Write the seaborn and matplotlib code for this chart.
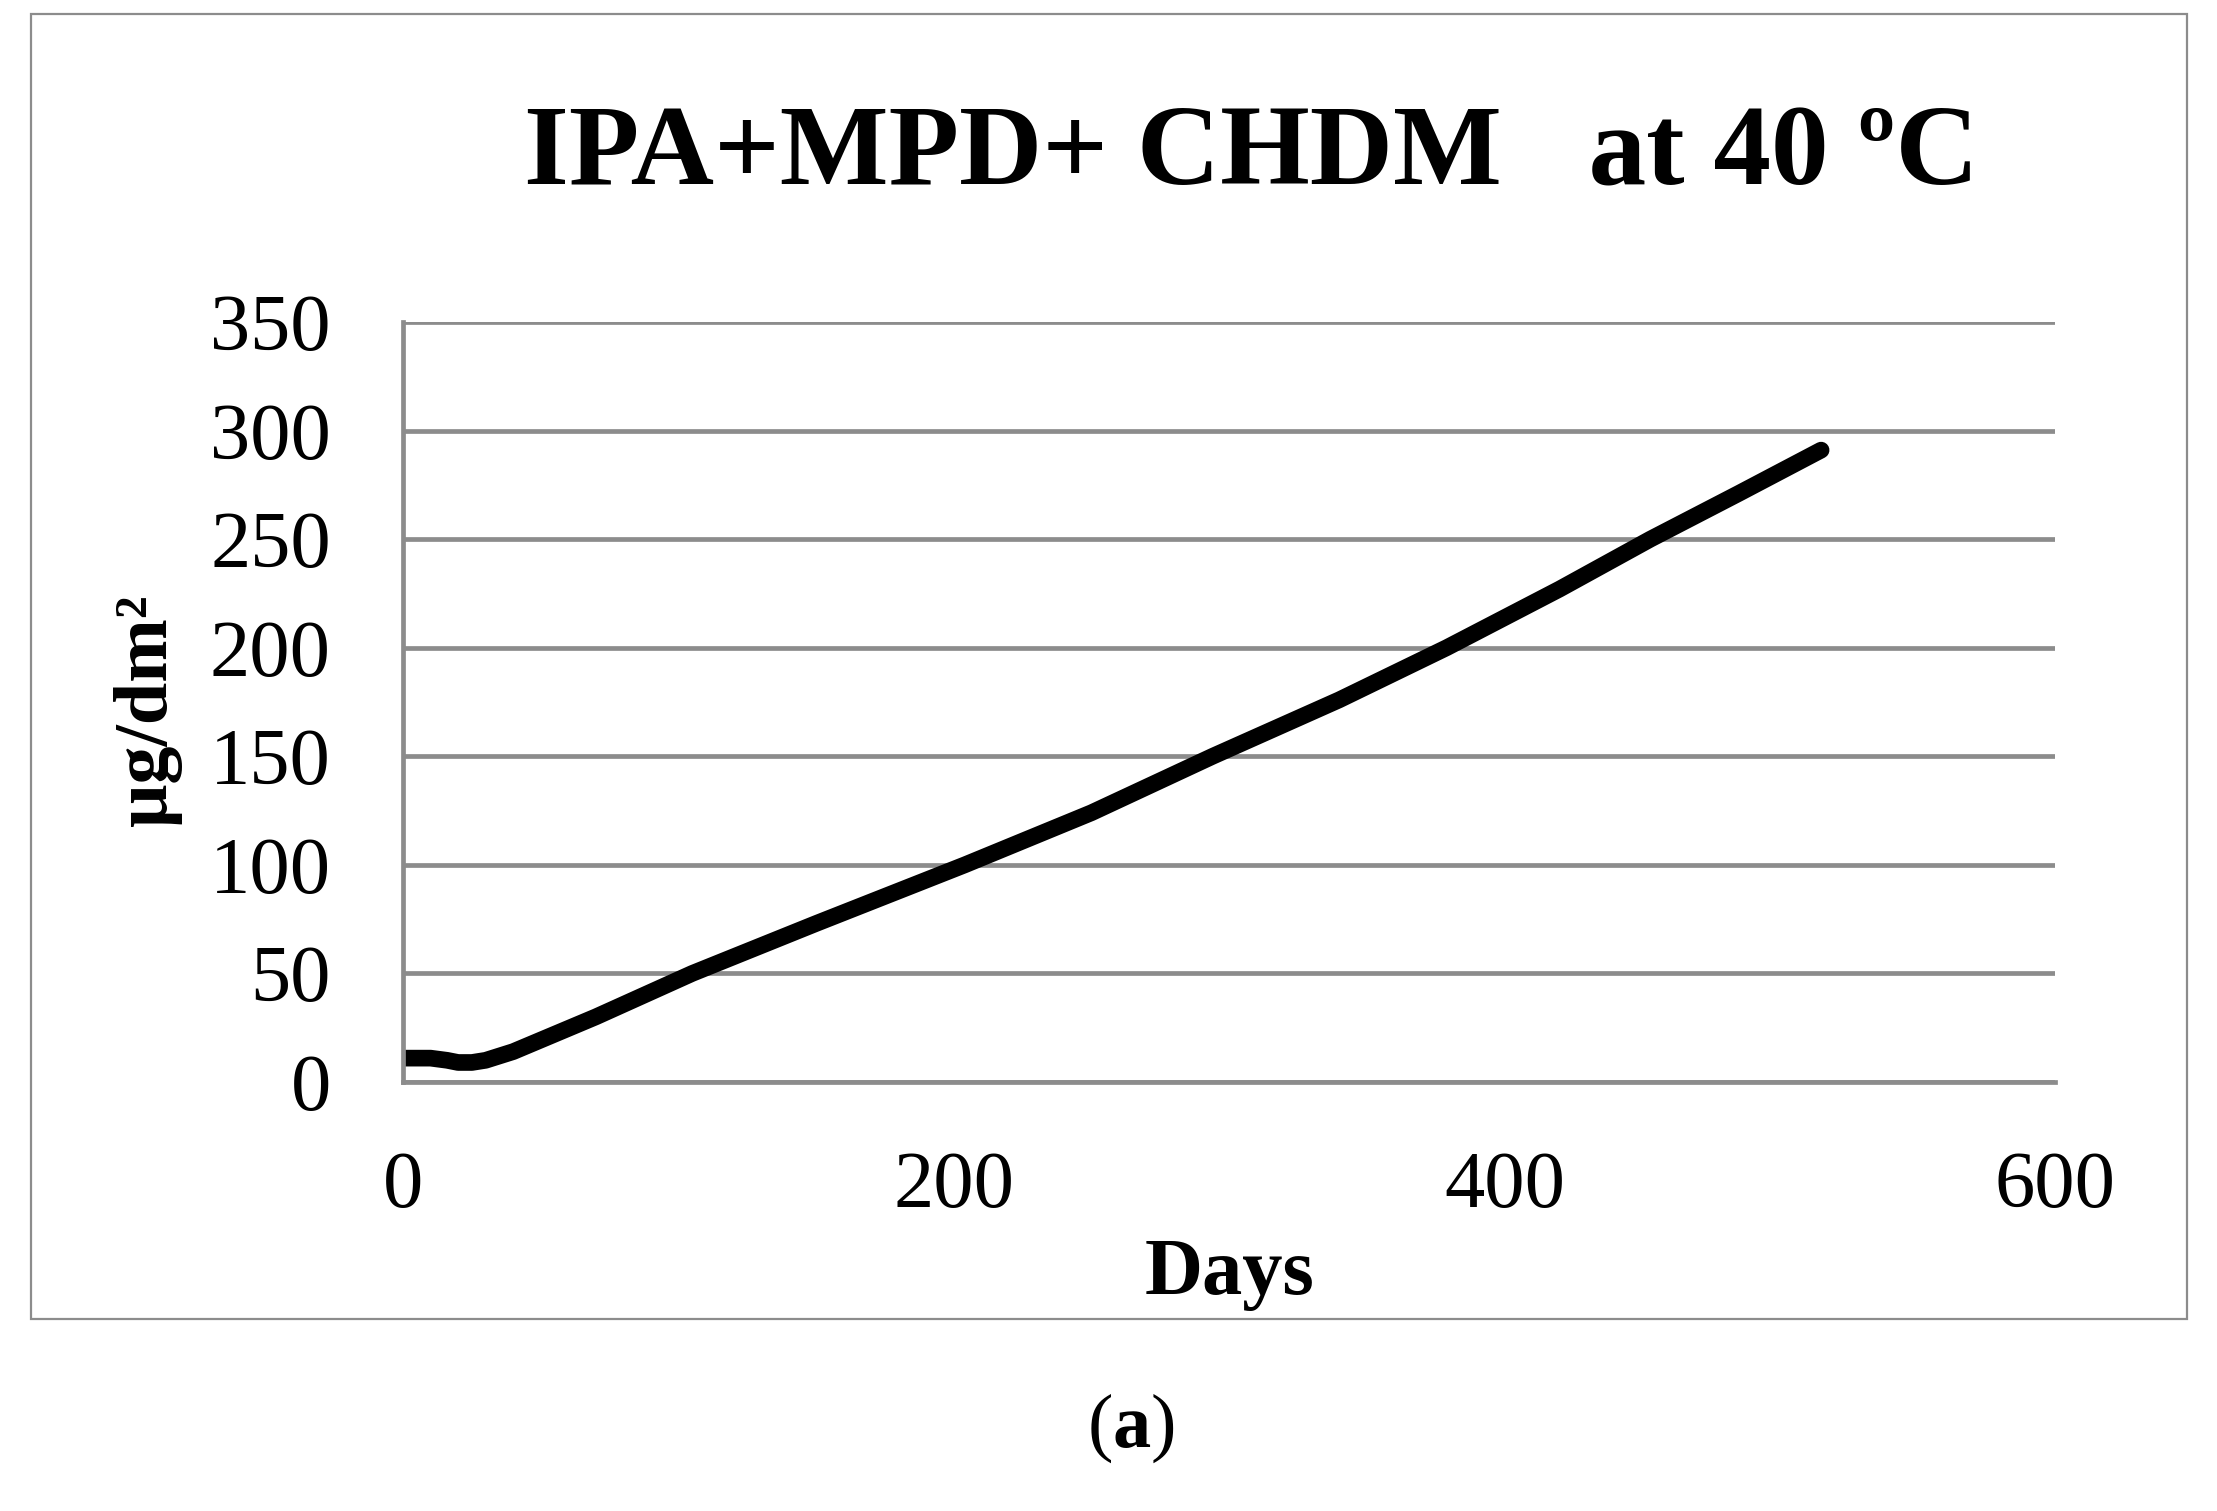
import numpy as np
import pandas as pd
import matplotlib
matplotlib.use("Agg")
import matplotlib.pyplot as plt
import seaborn as sns
from matplotlib.patches import Rectangle

# ── Data ─────────────────────────────────────────────────
days = [0, 10, 16, 20, 25, 30, 40, 70, 105, 150, 204, 250, 294, 340, 379, 420, 453, 485, 515]
migration = [11, 11, 10, 9, 9, 10, 14, 30, 50, 73, 100, 124, 150, 176, 200, 227, 250, 271, 291]

TITLE = "IPA+MPD+ CHDM   at 40 \u00baC"
X_LABEL = "Days"
Y_LABEL = "\u03bcg/dm\u00b2"
PANEL = r"($\mathbf{a}$)"
X_TICKS = [0, 200, 400, 600]
Y_TICKS = [0, 50, 100, 150, 200, 250, 300, 350]

GRID_GREY = "#8c8c8c"

sns.set_theme(style="white")
plt.rcParams["font.family"] = ["Liberation Serif", "DejaVu Serif"]
plt.rcParams["text.color"] = "black"
plt.rcParams["axes.labelcolor"] = "black"
plt.rcParams["mathtext.fontset"] = "custom"
plt.rcParams["mathtext.rm"] = "Liberation Serif"
plt.rcParams["mathtext.bf"] = "Liberation Serif:bold"

df = pd.DataFrame({"Days": days, "value": migration})

fig = plt.figure(figsize=(22.17, 15.11), dpi=100)
ax = fig.add_axes([0.1818, 0.2839, 0.7452, 0.503])

sns.lineplot(data=df, x="Days", y="value", ax=ax, color="black",
             linewidth=12, solid_capstyle="round", solid_joinstyle="round")

ax.set_xlim(0, 600)
ax.set_ylim(0, 350)
ax.set_xticks(X_TICKS)
ax.set_yticks(Y_TICKS)
ax.tick_params(axis="both", length=0, labelsize=58, colors="black")
ax.tick_params(axis="x", pad=50)
ax.tick_params(axis="y", pad=52)

# horizontal gridlines only (Excel style)
ax.yaxis.grid(True, color=GRID_GREY, linewidth=3.4)
ax.xaxis.grid(False)
ax.set_axisbelow(True)
for side in ["top", "right"]:
    ax.spines[side].set_visible(False)
for side in ["left", "bottom"]:
    ax.spines[side].set_color(GRID_GREY)
    ax.spines[side].set_linewidth(3.4)

ax.set_xlabel(X_LABEL, fontsize=58, fontweight="bold", color="black")
ax.set_ylabel(Y_LABEL, fontsize=55, fontweight="bold", color="black")
ax.xaxis.set_label_coords(0.5, -0.205)
ax.yaxis.set_label_coords(-0.134, 0.489)

fig.text(0.5643, 0.878, TITLE, fontsize=83, fontweight="bold",
         ha="center", va="baseline", color="black")

# outer chart frame
fig.patches.append(Rectangle((0.014, 0.127), 0.9725, 0.8637, transform=fig.transFigure,
                             fill=False, edgecolor=GRID_GREY, linewidth=1.6))

fig.text(0.510, 0.055, PANEL, fontsize=55, ha="center", va="center", color="black")

fig.savefig("out.png", dpi=100, facecolor="white")
